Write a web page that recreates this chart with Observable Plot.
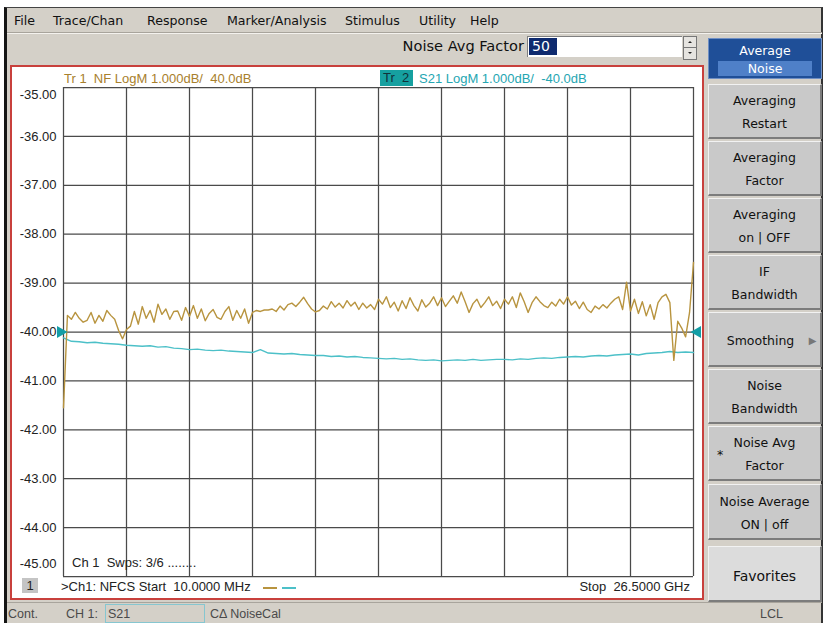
<!DOCTYPE html>
<html><head><meta charset="utf-8">
<script src="https://cdn.jsdelivr.net/npm/d3@7"></script>
<script src="https://cdn.jsdelivr.net/npm/@observablehq/plot@0.6"></script>
<style>
html,body{margin:0;padding:0;}
body{width:825px;height:623px;overflow:hidden;background:#fff;position:relative;font-family:"DejaVu Sans",sans-serif;}
.a{position:absolute;white-space:pre;}
#win{position:absolute;left:4px;top:7px;width:819px;height:616px;background:#d4d0c8;border-left:3px solid #151515;border-top:1px solid #444;border-right:2px solid #333;box-sizing:border-box;}
.menu{font-size:12.6px;color:#111;top:13px;line-height:16px;}
.btn{position:absolute;left:708px;width:114px;background:#c9c9c9;border-top:1px solid #f2f2f2;border-left:1px solid #f2f2f2;border-bottom:2px solid #7c7c7c;border-right:2px solid #7c7c7c;box-sizing:border-box;font-size:12.5px;color:#111;text-align:center;}
.btn div{position:absolute;left:0;right:0;line-height:16px;}
#chart{position:absolute;left:10px;top:65px;width:694px;height:535px;border:2px solid #c8403c;box-sizing:border-box;background:#fff;}
.ct{font-family:"Liberation Sans",Arial,sans-serif;font-size:13px;line-height:16px;}
.st{font-family:"Liberation Sans",Arial,sans-serif;font-size:12.5px;color:#4a4a4a;line-height:16px;top:606px;}
</style></head>
<body>
<div id="win"></div>
<!-- menu bar -->
<div class="a menu" style="left:14px">File</div>
<div class="a menu" style="left:53px">Trace/Chan</div>
<div class="a menu" style="left:147px">Response</div>
<div class="a menu" style="left:227px">Marker/Analysis</div>
<div class="a menu" style="left:345px">Stimulus</div>
<div class="a menu" style="left:419px">Utility</div>
<div class="a menu" style="left:470px">Help</div>
<div class="a" style="left:7px;top:32px;width:815px;height:1px;background:#a8a49c"></div>
<div class="a" style="left:7px;top:33px;width:815px;height:1px;background:#f4f2ee"></div>
<!-- toolbar -->
<div class="a" style="left:380px;width:144px;text-align:right;top:37px;font-size:14.6px;line-height:18px;color:#111">Noise Avg Factor</div>
<div class="a" style="left:527px;top:36px;width:155px;height:21px;background:#fff;border-top:1px solid #808080;border-left:1px solid #808080;box-sizing:border-box"></div>
<div class="a" style="left:529px;top:38px;width:28px;height:17px;background:#0e2a6e;color:#fff;font-size:14px;line-height:17px;padding-left:3px;box-sizing:border-box">50</div>
<div class="a" style="left:683px;top:36px;width:14px;height:24px;background:#e6e4e0;border:1px solid #777;box-sizing:border-box"></div>
<div class="a" style="left:684px;top:47px;width:12px;height:1px;background:#777"></div>
<div class="a" style="left:688px;top:41px;width:0;height:0;border-left:2px solid transparent;border-right:2px solid transparent;border-bottom:2px solid #222"></div>
<div class="a" style="left:688px;top:52px;width:0;height:0;border-left:2px solid transparent;border-right:2px solid transparent;border-top:2px solid #222"></div>
<!-- soft keys -->
<div class="a" style="left:708px;top:38px;width:114px;height:41px;background:#1f4f98;border:1px solid #6f8fc4;box-sizing:border-box"></div>
<div class="a" style="left:708px;width:114px;text-align:center;top:43px;font-size:12.5px;line-height:16px;color:#fff">Average</div>
<div class="a" style="left:718px;top:61px;width:94px;height:15px;background:#4f80c8;color:#fff;font-size:12.5px;line-height:15px;text-align:center">Noise</div>
<div class="btn" style="top:84px;height:55px"><div style="top:8px">Averaging</div><div style="top:31px">Restart</div></div>
<div class="btn" style="top:141px;height:55px"><div style="top:8px">Averaging</div><div style="top:31px">Factor</div></div>
<div class="btn" style="top:198px;height:55px"><div style="top:8px">Averaging</div><div style="top:31px">on | OFF</div></div>
<div class="btn" style="top:255px;height:55px"><div style="top:8px">IF</div><div style="top:31px">Bandwidth</div></div>
<div class="btn" style="top:312px;height:55px"><div style="top:20px;left:-8px">Smoothing</div><div style="top:20px;left:96px;right:0;color:#777;font-size:10px">&#9654;</div></div>
<div class="btn" style="top:369px;height:55px"><div style="top:8px">Noise</div><div style="top:31px">Bandwidth</div></div>
<div class="btn" style="top:426px;height:55px"><div style="top:8px">Noise Avg</div><div style="top:31px">Factor</div><div style="top:20px;left:8px;right:auto">*</div></div>
<div class="btn" style="top:484px;height:56px"><div style="top:9px">Noise Average</div><div style="top:32px">ON | off</div></div>
<div class="btn" style="top:546px;height:56px;background:#dcdcdc;font-size:14px"><div style="top:20px;line-height:18px">Favorites</div></div>
<!-- chart panel -->
<div id="chart"></div>
<div class="a ct" style="left:64px;top:71px;color:#a8802c">Tr 1  NF LogM 1.000dB/  40.0dB</div>
<div class="a ct" style="left:380px;top:70px;width:33px;height:16px;background:#16a0a0;color:#10323a;padding-left:3px;box-sizing:border-box">Tr  2</div>
<div class="a ct" style="left:419px;top:71px;color:#25a6b2">S21 LogM 1.000dB/  -40.0dB</div>
<div class="a ct" style="left:72px;top:555px;color:#222">Ch 1  Swps: 3/6 ........</div>
<div class="a ct" style="left:22px;top:578px;width:16px;height:15px;background:#c4c4c4;color:#222;text-align:center;line-height:15px">1</div>
<div class="a ct" style="left:61px;top:579px;color:#222">&gt;Ch1: NFCS Start  10.0000 MHz</div>
<div class="a" style="left:263px;top:587px;width:14px;height:2px;background:#b8943f"></div>
<div class="a" style="left:282px;top:587px;width:14px;height:2px;background:#4cc0c8"></div>
<div class="a ct" style="left:540px;width:150px;text-align:right;top:579px;color:#222">Stop  26.5000 GHz</div>
<!-- status bar -->
<div class="a" style="left:7px;top:602px;width:815px;height:1px;background:#a8a49c"></div>
<div class="a st" style="left:8px">Cont.</div>
<div class="a st" style="left:66px">CH 1:</div>
<div class="a" style="left:105px;top:604px;width:100px;height:19px;border:1px solid #86c6d0;box-sizing:border-box"></div>
<div class="a st" style="left:108px">S21</div>
<div class="a st" style="left:210px">CΔ NoiseCal</div>
<div class="a st" style="left:760px">LCL</div>
<script>
// Sweep limits (GHz)
const START_GHZ = 0.01;
const STOP_GHZ = 26.5;
const GRID_DIVISIONS = 10;
// Y scale (dB)
const yTicks = [-35, -36, -37, -38, -39, -40, -41, -42, -43, -44, -45];
const refLevel = [-40];
// Trace 1: NF LogM (one value per sweep point)
const nfTrace = [
 -41.55,-39.66,-39.74,-39.60,-39.72,-39.80,-39.76,-39.60,-39.82,-39.66,-39.78,-39.56,-39.66,-39.74,-39.97,-40.14,
 -39.95,-39.88,-39.58,-39.84,-39.48,-39.72,-39.56,-39.80,-39.43,-39.64,-39.53,-39.74,-39.58,-39.57,-39.76,-39.50,
 -39.68,-39.46,-39.72,-39.53,-39.77,-39.62,-39.54,-39.70,-39.74,-39.58,-39.48,-39.76,-39.56,-39.72,-39.53,-39.82,
 -39.60,-39.56,-39.58,-39.55,-39.55,-39.53,-39.58,-39.47,-39.55,-39.44,-39.41,-39.48,-39.39,-39.29,-39.42,-39.53,
 -39.59,-39.56,-39.47,-39.53,-39.38,-39.49,-39.41,-39.51,-39.36,-39.47,-39.39,-39.54,-39.41,-39.51,-39.44,-39.54,
 -39.33,-39.43,-39.28,-39.50,-39.39,-39.57,-39.36,-39.52,-39.30,-39.46,-39.57,-39.34,-39.49,-39.41,-39.28,-39.46,
 -39.30,-39.48,-39.37,-39.26,-39.41,-39.18,-39.38,-39.60,-39.42,-39.33,-39.50,-39.40,-39.28,-39.46,-39.37,-39.52,
 -39.33,-39.43,-39.28,-39.50,-39.20,-39.38,-39.60,-39.40,-39.28,-39.38,-39.46,-39.50,-39.39,-39.47,-39.33,-39.43,
 -39.28,-39.45,-39.37,-39.52,-39.39,-39.54,-39.60,-39.47,-39.53,-39.44,-39.51,-39.41,-39.33,-39.28,-39.54,-38.98,
 -39.57,-39.33,-39.62,-39.38,-39.67,-39.44,-39.74,-39.40,-39.28,-39.23,-39.40,-40.58,-39.78,-39.92,-40.10,-39.60,
 -38.58
];
// Trace 2: S21 LogM
const s21Trace = [
 -40.12,-40.19,-40.20,-40.22,-40.21,-40.23,-40.24,-40.25,-40.27,-40.28,-40.29,-40.28,-40.31,-40.30,-40.33,-40.34,
 -40.36,-40.35,-40.37,-40.38,-40.37,-40.39,-40.40,-40.41,-40.42,-40.36,-40.43,-40.44,-40.45,-40.44,-40.46,-40.47,
 -40.48,-40.48,-40.50,-40.49,-40.51,-40.50,-40.52,-40.53,-40.54,-40.55,-40.54,-40.56,-40.55,-40.57,-40.58,-40.57,
 -40.59,-40.58,-40.57,-40.58,-40.56,-40.58,-40.57,-40.56,-40.56,-40.57,-40.55,-40.56,-40.54,-40.53,-40.54,-40.52,
 -40.51,-40.50,-40.51,-40.49,-40.48,-40.49,-40.47,-40.46,-40.45,-40.47,-40.44,-40.43,-40.42,-40.40,-40.42,-40.41,
 -40.42
];
const NF_COLOR = "#b8943f";
const S21_COLOR = "#4cc0c8";
const MARK_COLOR = "#139ea6";

const sweep = vals => vals.map((v, i) => ({f: START_GHZ + i * (STOP_GHZ - START_GHZ) / (vals.length - 1), db: v}));
const xDiv = d3.range(GRID_DIVISIONS + 1).map(i => START_GHZ + i * (STOP_GHZ - START_GHZ) / GRID_DIVISIONS);
const midTicks = yTicks.slice(1, -1);

const chart = Plot.plot({
  width: 690, height: 531,
  marginLeft: 51, marginRight: 9, marginTop: 20, marginBottom: 22,
  x: {domain: [START_GHZ, STOP_GHZ], axis: null},
  y: {domain: [-45, -35], axis: null},
  style: {background: "transparent", fontFamily: "'Liberation Sans', Arial, sans-serif", fontSize: "13px", color: "#222", overflow: "visible"},
  marks: [
    Plot.ruleY(yTicks, {stroke: "#4a4a4a", strokeWidth: 1.25}),
    Plot.ruleX(xDiv, {stroke: "#4a4a4a", strokeWidth: 1.25}),
    Plot.line(sweep(s21Trace), {x: "f", y: "db", stroke: S21_COLOR, strokeWidth: 1.4}),
    Plot.line(sweep(nfTrace), {x: "f", y: "db", stroke: NF_COLOR, strokeWidth: 1.4}),
    Plot.text(midTicks, {y: d => d, frameAnchor: "left", textAnchor: "end", dx: -7, text: d => d.toFixed(2), fill: "#222"}),
    Plot.text([yTicks[0]], {y: d => d, frameAnchor: "left", textAnchor: "end", dx: -7, dy: 7, text: d => d.toFixed(2), fill: "#222"}),
    Plot.text([yTicks[yTicks.length - 1]], {y: d => d, frameAnchor: "left", textAnchor: "end", dx: -7, dy: -13, text: d => d.toFixed(2), fill: "#222"}),
    Plot.dot(refLevel, {x: () => START_GHZ, y: d => d, symbol: "triangle", rotate: 90, r: 4.5, fill: MARK_COLOR, stroke: null, dx: -3}),
    Plot.dot(refLevel, {x: () => STOP_GHZ, y: d => d, symbol: "triangle", rotate: -90, r: 4.5, fill: MARK_COLOR, stroke: null, dx: 4})
  ]
});
document.getElementById("chart").appendChild(chart);
</script>
</body></html>
